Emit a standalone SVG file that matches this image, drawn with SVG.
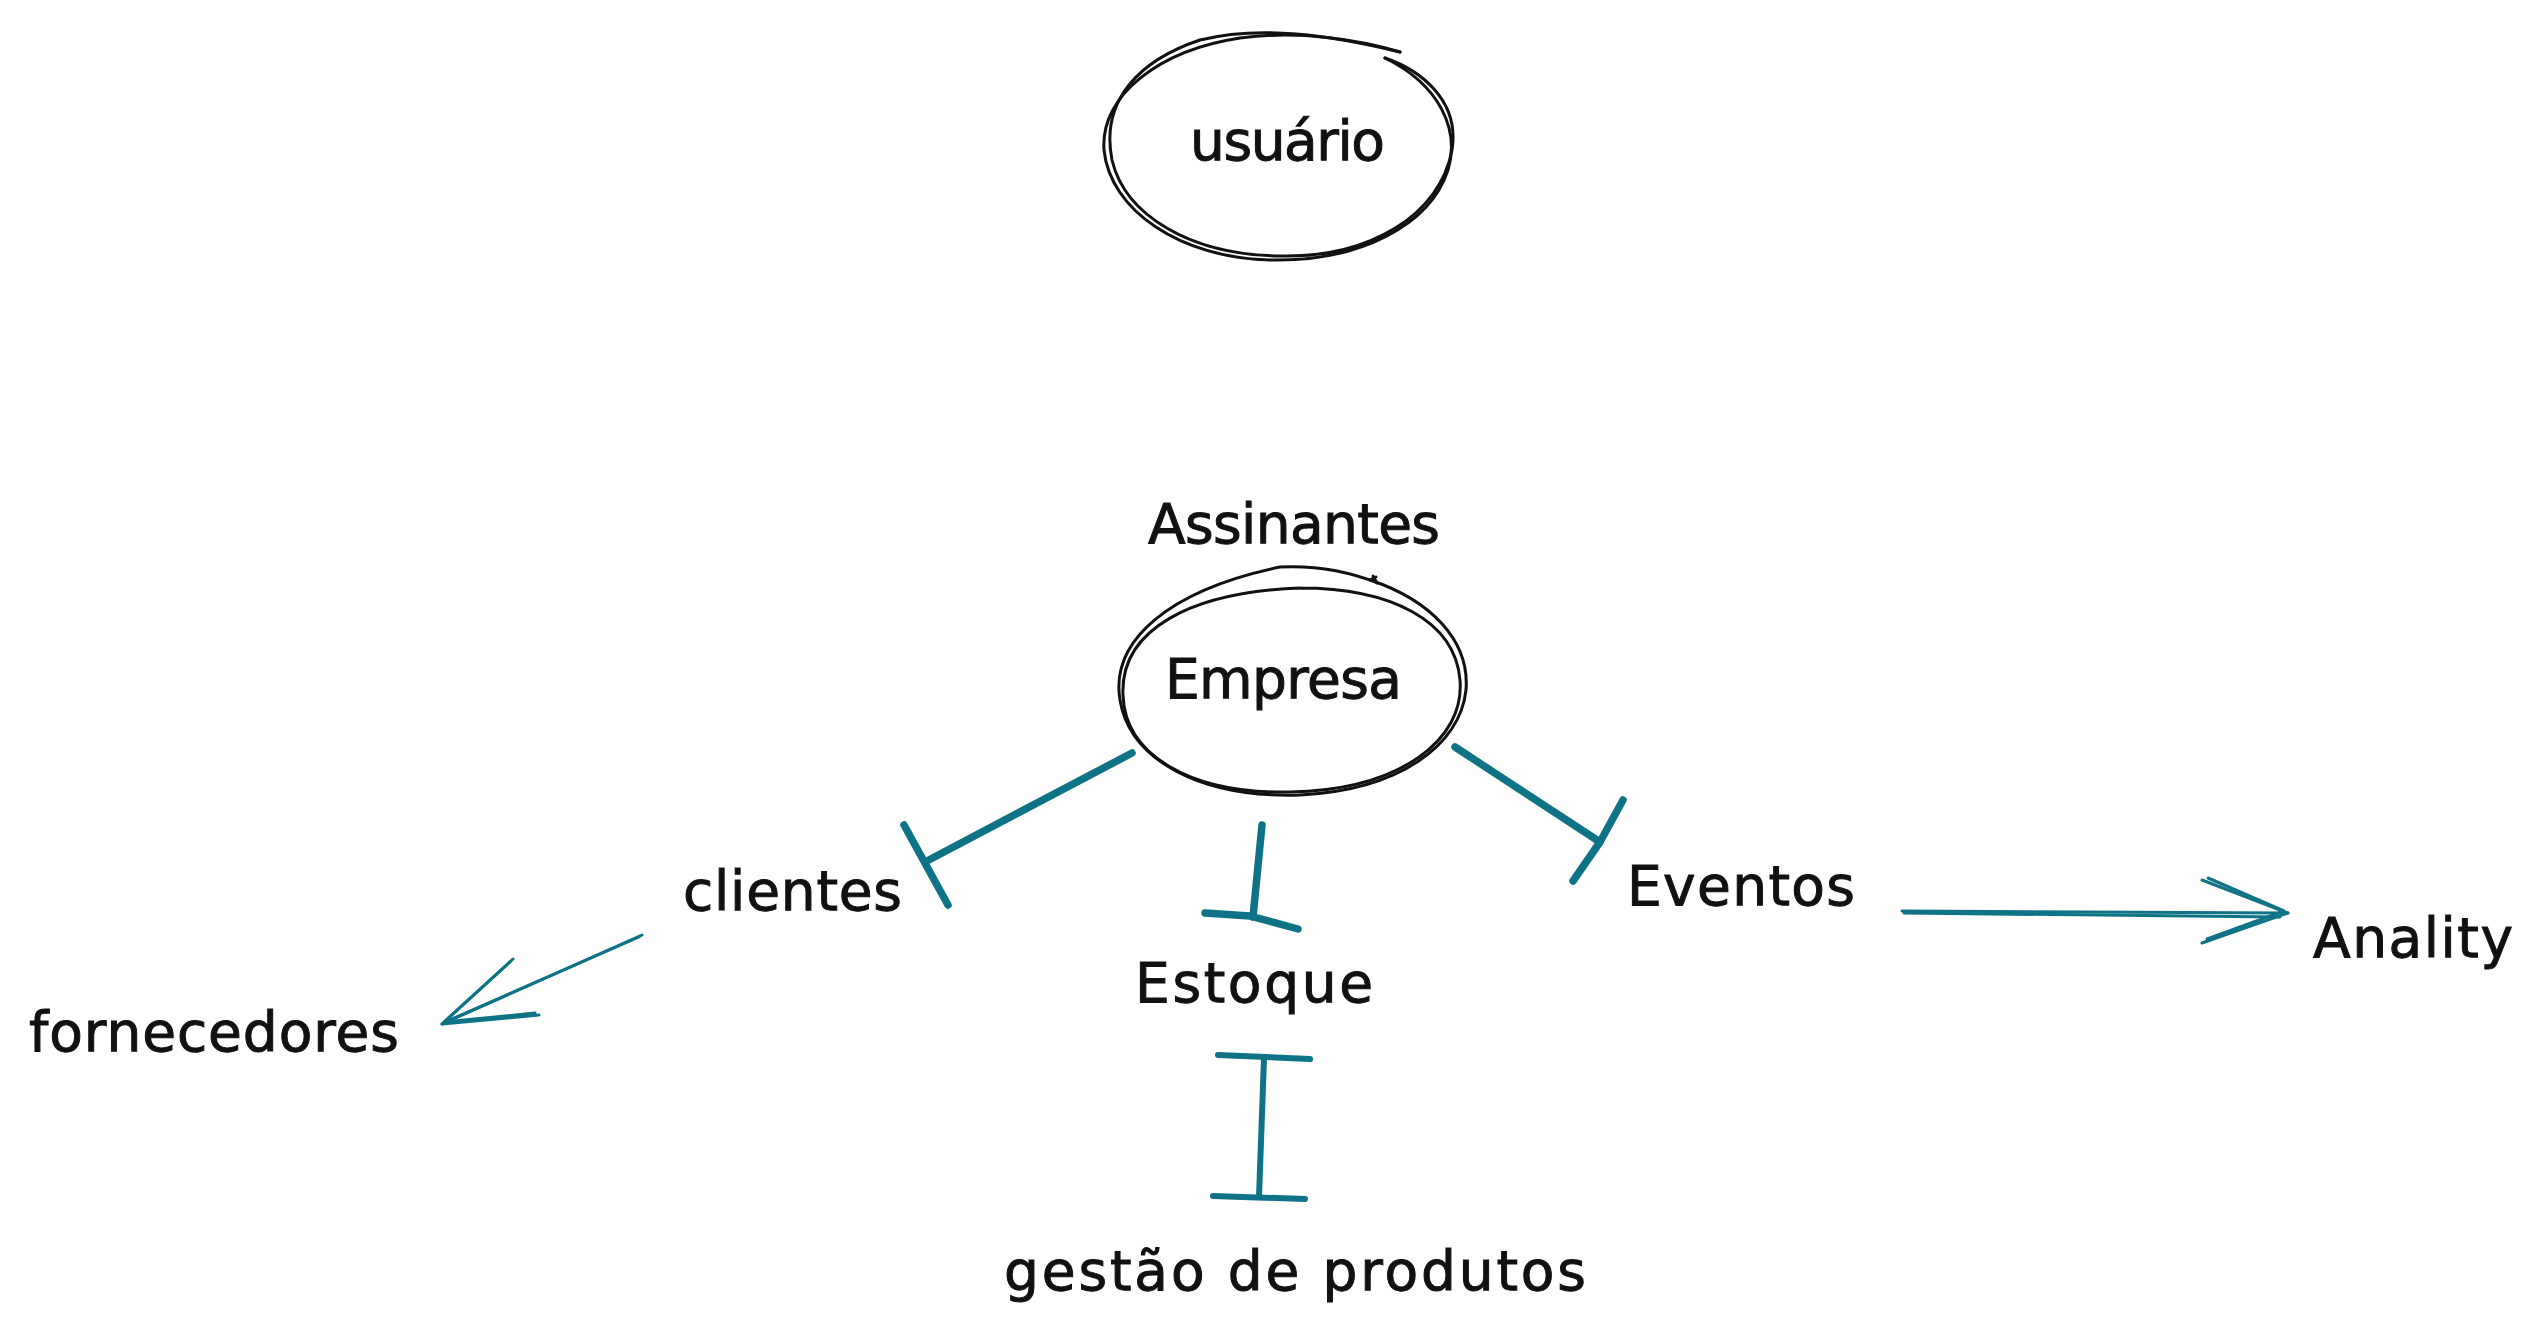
<svg xmlns="http://www.w3.org/2000/svg" width="2543" height="1343" viewBox="0 0 2543 1343">
<style>
.lbl{font-family:"DejaVu Sans","Liberation Sans",sans-serif;font-size:55px;fill:#111;stroke:#111;stroke-width:1;}
.outline{fill:none;stroke:#111;stroke-width:3;stroke-linecap:round;stroke-linejoin:round;}
.c-thick{fill:none;stroke:#0e7386;stroke-width:7.5;stroke-linecap:round;stroke-linejoin:round;}
.c-mid{fill:none;stroke:#0e7386;stroke-width:6;stroke-linecap:round;stroke-linejoin:round;}
.c-thin{fill:none;stroke:#0e7386;stroke-width:3;stroke-linecap:round;stroke-linejoin:round;}
</style>
<rect width="2543" height="1343" fill="#ffffff"/>

<g id="node-usuario">
<path class="outline" d="M1385 58 C1440 85 1460 130 1448 170 C1430 225 1360 262 1270 260 C1180 258 1110 210 1104 150 C1100 95 1160 50 1240 38 C1300 30 1360 40 1400 52"/>
<path class="outline" d="M1400 52 C1330 35 1260 25 1200 40 C1140 60 1100 100 1112 160 C1125 215 1190 255 1280 256 C1370 258 1440 215 1452 150 C1460 100 1420 70 1385 58"/>
<text class="lbl" x="1190" y="160" textLength="195">usuário</text>
</g>

<g id="node-assinantes">
<text class="lbl" x="1148" y="543" textLength="292">Assinantes</text>
</g>

<g id="node-empresa">
<path class="outline" d="M1370 580 C1430 600 1470 640 1466 690 C1460 745 1400 790 1300 795 C1200 798 1130 760 1120 700 C1110 640 1170 590 1280 567 C1320 565 1350 572 1378 583"/>
<path class="outline" d="M1300 588 C1390 588 1455 620 1460 680 C1465 740 1400 790 1290 792 C1190 794 1125 755 1123 695 C1120 630 1190 592 1300 588"/>
<path class="outline" d="M1370 580 L1376 577 M1373 576 L1377 583"/>
<text class="lbl" x="1165" y="698" textLength="237">Empresa</text>
</g>

<g id="node-clientes">
<text class="lbl" x="683" y="910" textLength="219">clientes</text>
</g>

<g id="node-estoque">
<text class="lbl" x="1135" y="1002" textLength="238">Estoque</text>
</g>

<g id="node-eventos">
<text class="lbl" x="1627" y="905" textLength="228">Eventos</text>
</g>

<g id="node-fornecedores">
<text class="lbl" x="29" y="1051" textLength="370">fornecedores</text>
</g>

<g id="node-gestao">
<text class="lbl" x="1004" y="1290" textLength="582">gestão de produtos</text>
</g>

<g id="node-anality">
<text class="lbl" x="2313" y="957" textLength="200">Anality</text>
</g>

<g id="connectors">
<!-- Empresa -> clientes -->
<path class="c-thick" d="M1132 753 L925 862"/>
<path class="c-thick" d="M904 825 L948 905"/>
<!-- Empresa -> Estoque -->
<path class="c-thick" d="M1262 825 L1253 917"/>
<path class="c-thick" d="M1205 913 L1250 916 L1298 929"/>
<!-- Empresa -> Eventos -->
<path class="c-thick" d="M1455 747 L1600 842"/>
<path class="c-thick" d="M1623 800 L1600 842 L1573 881"/>
<!-- clientes -> fornecedores -->
<path class="c-thin" d="M642 935 L442 1024"/>
<path class="c-thin" d="M639 937 L445 1022"/>
<path class="c-thin" d="M513 959 L442 1024 L539 1015"/>
<path class="c-thin" d="M510 962 L444 1022 L535 1013"/>
<!-- Eventos -> Anality -->
<path class="c-thin" d="M1902 911 L2288 913"/>
<path class="c-thin" d="M1904 913 L2280 917"/>
<path class="c-thin" d="M2202 880 L2288 913 L2202 943"/>
<path class="c-thin" d="M2208 878 L2284 911 L2207 939"/>
<!-- Estoque - gestão de produtos -->
<path class="c-mid" d="M1264 1058 L1259 1197"/>
<path class="c-mid" d="M1218 1055 L1310 1059"/>
<path class="c-mid" d="M1213 1196 L1305 1199"/>
</g>
</svg>
